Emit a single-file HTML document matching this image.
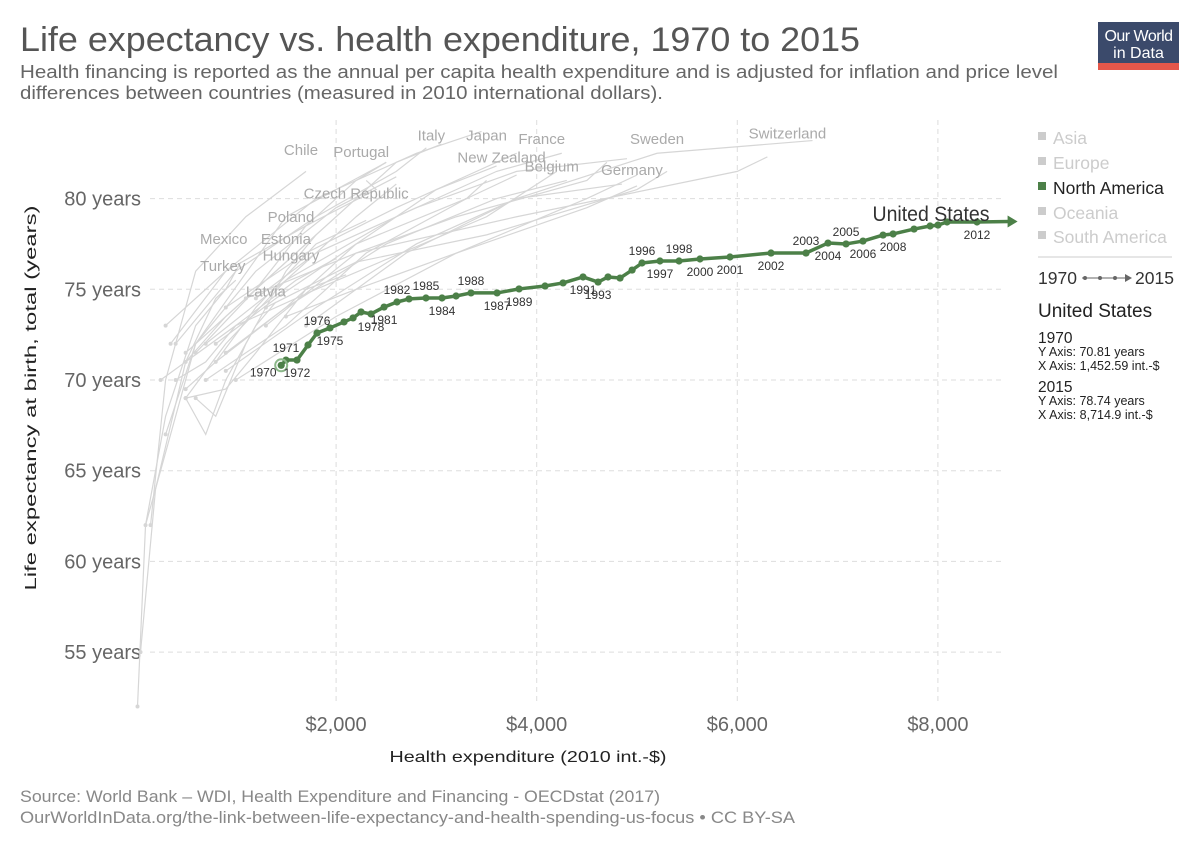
<!DOCTYPE html>
<html><head><meta charset="utf-8"><style>
body{margin:0;background:#fff;width:1200px;height:847px;overflow:hidden;font-family:"Liberation Sans",sans-serif;}
svg text{font-family:"Liberation Sans",sans-serif;}
</style></head><body>
<svg id="chart" width="1200" height="847" viewBox="0 0 1200 847">
<text x="20" y="51" font-size="34" fill="#555" textLength="840" lengthAdjust="spacingAndGlyphs">Life expectancy vs. health expenditure, 1970 to 2015</text>
<text x="20" y="78" font-size="18.5" fill="#666" textLength="1038" lengthAdjust="spacingAndGlyphs">Health financing is reported as the annual per capita health expenditure and is adjusted for inflation and price level</text>
<text x="20" y="99" font-size="18.5" fill="#666" textLength="643" lengthAdjust="spacingAndGlyphs">differences between countries (measured in 2010 international dollars).</text>
<g>
<rect x="1098" y="22" width="81" height="48" fill="#3b4a6b"/>
<rect x="1098" y="63" width="81" height="7" fill="#e4574a"/>
<text x="1138.5" y="41" font-size="16" fill="#fff" text-anchor="middle" letter-spacing="-0.5">Our World</text>
<text x="1138.5" y="58" font-size="16" fill="#fff" text-anchor="middle">in Data</text>
</g>
<g id="grid"></g><g id="axes"></g><g id="countries"></g><g id="us"></g>
<g font-size="17.5">
<rect x="1038" y="132" width="8" height="8" fill="#ccc"/><text x="1053" y="144" fill="#ccc">Asia</text>
<rect x="1038" y="157" width="8" height="8" fill="#ccc"/><text x="1053" y="169" fill="#ccc">Europe</text>
<rect x="1038" y="182" width="8" height="8" fill="#4c8048"/><text x="1053" y="194" fill="#222">North America</text>
<rect x="1038" y="207" width="8" height="8" fill="#ccc"/><text x="1053" y="219" fill="#ccc">Oceania</text>
<rect x="1038" y="231" width="8" height="8" fill="#ccc"/><text x="1053" y="243" fill="#ccc">South America</text>
<line x1="1038" y1="257" x2="1172" y2="257" stroke="#ddd" stroke-width="1.5"/>
<g>
<text x="1038" y="284" fill="#333">1970</text>
<line x1="1082" y1="278" x2="1128" y2="278" stroke="#666" stroke-width="1"/>
<circle cx="1085" cy="278" r="2" fill="#666"/><circle cx="1100" cy="278" r="2" fill="#666"/><circle cx="1115" cy="278" r="2" fill="#666"/>
<path d="M1125,274 L1132,278 L1125,282Z" fill="#666"/>
<text x="1135" y="284" fill="#333">2015</text></g>
<text x="1038" y="317" font-size="19" fill="#222">United States</text>
<text x="1038" y="343" font-size="15.5" fill="#222">1970</text>
<text x="1038" y="356" font-size="12.5" fill="#222">Y Axis: 70.81 years</text>
<text x="1038" y="370" font-size="12.5" fill="#222">X Axis: 1,452.59 int.-$</text>
<text x="1038" y="392" font-size="15.5" fill="#222">2015</text>
<text x="1038" y="405" font-size="12.5" fill="#222">Y Axis: 78.74 years</text>
<text x="1038" y="419" font-size="12.5" fill="#222">X Axis: 8,714.9 int.-$</text>
</g>
<text x="20" y="802" font-size="16.5" fill="#888" textLength="640" lengthAdjust="spacingAndGlyphs">Source: World Bank – WDI, Health Expenditure and Financing - OECDstat (2017)</text>
<text x="20" y="823" font-size="16.5" fill="#888" textLength="775" lengthAdjust="spacingAndGlyphs">OurWorldInData.org/the-link-between-life-expectancy-and-health-spending-us-focus • CC BY-SA</text>
</svg>
<script>
const xTicks=[2000,4000,6000,8000];
const xTickLabels=["$2,000","$4,000","$6,000","$8,000"];
const yTicks=[55,60,65,70,75,80];
const yTickLabels=["55 years","60 years","65 years","70 years","75 years","80 years"];
const usSpend=[1452.59,1500,1610,1720,1810,1939,2079,2169,2249,2348,2478,2607,2727,2896,3056,3196,3345,3605,3824,4083,4263,4462,4612,4711,4831,4951,5050,5229,5419,5628,5927,6336,6685,6904,7084,7253,7453,7553,7762,7922,8001,8091,8390,8714.9];
const usLife=[70.81,71.10,71.10,71.93,72.59,72.87,73.20,73.42,73.75,73.64,74.02,74.30,74.47,74.52,74.52,74.63,74.80,74.80,75.02,75.18,75.35,75.68,75.40,75.68,75.62,76.06,76.45,76.56,76.56,76.67,76.78,77.00,77.00,77.55,77.50,77.66,77.99,78.05,78.32,78.49,78.54,78.71,78.71,78.74];
const countryNames=["Chile","Portugal","Italy","Japan","France","New Zealand","Belgium","Sweden","Germany","Switzerland","Czech Republic","Poland","Mexico","Estonia","Hungary","Turkey","Latvia","Korea","Denmark","Netherlands","Canada","Norway","Austria","Spain","UK","Finland","Greece","Israel","Slovakia","Slovenia","Iceland","Ireland"];
const countrySpend=[[150,300,600,1100,1700],[300,600,1200,2000,2600],[500,1000,1800,2600,3050],[350,900,1800,2800,3450],[700,1500,2600,3600,4250],[900,1500,2200,3000,3600],[800,1500,2500,3600,4300],[1200,1800,2800,3800,4900],[900,1800,2800,3800,4850],[1700,2700,3800,5200,6750],[500,800,1200,1800,2300],[250,500,900,1400,1700],[100,300,600,900,1050],[600,800,1100,1500,1800],[500,900,1200,1700,2100],[50,200,500,800,1000],[500,700,900,1200,1400],[20,100,600,1500,2500],[1500,2200,3200,4500,5000],[1300,2200,3500,5000,5300],[1300,2200,3200,4500,4700],[1100,2200,3800,6000,6300],[1000,2000,3200,4500,5000],[400,1000,1800,2600,2900],[800,1400,2200,3300,3500],[700,1500,2300,3300,3800],[300,900,1700,2400,2300],[600,1200,1700,2200,2500],[400,700,1000,1600,2000],[500,900,1500,2200,2600],[900,1700,2600,3400,3800],[500,1000,1800,3500,4200]];
const countryLife=[[62,70,76,79,81.5],[67,72,76,79.5,81.2],[71.5,74,78,82,83],[72,76,80,82.5,83.7],[72,75.5,79,81.5,82.5],[71.5,74,77.5,80.5,81.8],[71,74,77.5,80,81],[74.5,77,79.5,81.5,82.2],[70.5,74,77.5,80,80.8],[73,77,80,82.5,83.2],[69.5,71,74,77.5,78.8],[70,71,73.5,76,77.5],[62,68,73,75,76.5],[69,68,72,76,78],[69,69.5,71.5,75,75.8],[55,64,71,74.5,75.5],[69,67,70,73,74.3],[52,62,72,79,82],[73.5,75,77,79.5,80.7],[74,76.5,78,80.5,81.5],[73,77,79,81,82],[74.5,77,79,81.5,82.3],[70,73.5,77,80,81.3],[72,76,79,81.5,82.8],[72,74.5,77.5,80,81],[70,73,77,80,81.3],[73,76,78.5,80.5,81],[71.5,75,78.5,81,82],[70,71,73,75.5,76.7],[69,72,75.5,79,80.8],[74,77,79.5,81.5,82.5],[71,73,75,79,81.5]];
const labelNames=["Chile","Portugal","Italy","Japan","France","New Zealand","Belgium","Sweden","Germany","Switzerland","Czech Republic","Poland","Mexico","Estonia","Hungary","Turkey","Latvia"];
const labelSpend=[1650,2250,2950,3500,4050,3650,4150,5200,4950,6500,2200,1550,880,1500,1550,870,1300];
const labelLife=[82.4,82.3,83.2,83.2,83.0,82.0,81.5,83.0,81.3,83.3,80.0,78.7,77.5,77.5,76.6,76.0,74.6];
const yearLabels=["1970","1971","1972","1975","1976","1978","1981","1982","1984","1985","1987","1988","1989","1991","1993","1996","1997","1998","2000","2001","2002","2003","2004","2005","2006","2008","2012"];
const yearIdx=[0,1,2,5,4,9,10,11,14,13,17,16,18,21,22,26,27,28,29,30,31,32,33,34,35,37,42];
const yearPos=["bl","a","b","b","a","b","b","a","b","a","b","a","b","b","b","a","b","a","b","b","b","a","b","a","b","b","b"];

const NS="http://www.w3.org/2000/svg";
const X=v=>135.5+v*0.1003;
const Y=v=>380-(v-70)*18.14;
function mk(tag,attrs,parent){const e=document.createElementNS(NS,tag);for(const k in attrs)e.setAttribute(k,attrs[k]);parent.appendChild(e);return e;}
const grid=document.getElementById('grid'),axes=document.getElementById('axes'),cg=document.getElementById('countries'),us=document.getElementById('us');
yTicks.forEach((t,i)=>{
 const l=mk('line',{x1:150,x2:1005,y1:Y(t),y2:Y(t),stroke:'#ddd','stroke-dasharray':'5,4'},grid);
 
 
 const tx=mk('text',{x:141,y:Y(t)+7,'font-size':20,fill:'#666','text-anchor':'end'},axes);tx.textContent=yTickLabels[i];
 
 
});
xTicks.forEach((t,i)=>{
 const l=mk('line',{x1:X(t),x2:X(t),y1:120,y2:705,stroke:'#ddd','stroke-dasharray':'5,4'},grid);
 
 
 const tx=mk('text',{x:X(t),y:731,'font-size':20,fill:'#666','text-anchor':'middle'},axes);tx.textContent=xTickLabels[i];
 
 
});
let at=mk('text',{x:528,y:762,'font-size':16,fill:'#222','text-anchor':'middle',textLength:277,lengthAdjust:'spacingAndGlyphs'},axes);at.textContent='Health expenditure (2010 int.-$)';


at=mk('text',{x:0,y:0,'font-size':16,fill:'#222','text-anchor':'middle',textLength:385,lengthAdjust:'spacingAndGlyphs',transform:'translate(36,398) rotate(-90)'},axes);at.textContent='Life expectancy at birth, total (years)';


countryNames.forEach((n,i)=>{
 const pts=countrySpend[i].map((s,j)=>X(s)+','+Y(countryLife[i][j])).join(' ');
 const p=mk('polyline',{points:pts,fill:'none',stroke:'#d6d6d6','stroke-width':1.2},cg);
 
 
 const c=mk('circle',{cx:X(countrySpend[i][0]),cy:Y(countryLife[i][0]),r:2,fill:'#d6d6d6'},cg);
 
 
});
labelNames.forEach((n,i)=>{
 const t=mk('text',{x:X(labelSpend[i]),y:Y(labelLife[i]),'font-size':15,fill:'#aaa','text-anchor':'middle'},cg);t.textContent=n;
 
 
});
const n=usSpend.length;
const pts=usSpend.map((s,i)=>X(s)+','+Y(usLife[i])).join(' ');
const line=mk('polyline',{points:pts,fill:'none',stroke:'#4c8048','stroke-width':3.5,'stroke-linejoin':'round'},us);


const ex=X(usSpend[n-1]),ey=Y(usLife[n-1]);
const ar=mk('path',{d:`M${ex-2},${ey-6} L${ex+8},${ey} L${ex-2},${ey+6}Z`,fill:'#4c8048'},us);


for(let i=0;i<n-1;i++){
 const c=mk('circle',{cx:X(usSpend[i]),cy:Y(usLife[i]),r:3.6,fill:'#4c8048'},us);
 
 
}
const r0=mk('circle',{cx:X(usSpend[0]),cy:Y(usLife[0]),r:6,fill:'none',stroke:'#8cb88a','stroke-width':2},us);


yearLabels.forEach((yl,k)=>{
 const i=yearIdx[k];const px=X(usSpend[i]),py=Y(usLife[i]);const pos=yearPos[k];
 let tx=px,ty=pos==='a'?py-8:py+17;
 if(pos==='bl'){tx=px-18;ty=py+11;}
 const t=mk('text',{x:tx,y:ty,'font-size':12,fill:'#333','text-anchor':'middle'},us);t.textContent=yl;
 
 
});
const ul=mk('text',{x:931,y:221,'font-size':21,fill:'#333','text-anchor':'middle',textLength:117,lengthAdjust:'spacingAndGlyphs'},us);ul.textContent='United States';


</script>
</body></html>
